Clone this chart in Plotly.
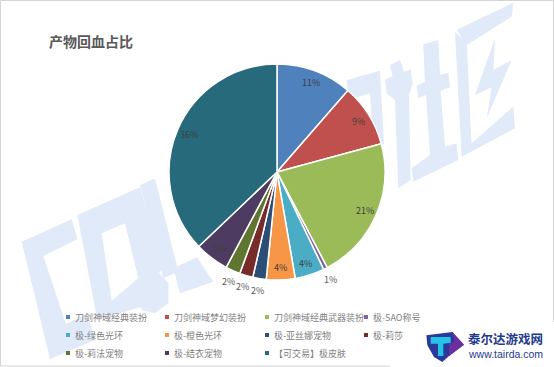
import math
import plotly.graph_objects as go

categories = ["刀剑神域经典装扮", "刀剑神域梦幻装扮", "刀剑神域经典武器装扮", "极-SAO称号",
              "极-绿色光环", "极-橙色光环", "极-亚丝娜宠物", "极-莉莎",
              "极-莉法宠物", "极-结衣宠物", "【可交易】极皮肤"]
values = [11.4, 9.4, 21.5, 0.6, 4.4, 4.3, 2.0, 2.0, 2.2, 5.1, 37.1]
shown_labels = ["11%", "9%", "21%", "1%", "4%", "4%", "2%", "2%", "2%", "5%", "36%"]
label_outside = [False, False, False, True, False, False, True, True, True, False, False]
colors = ["#4f81bd", "#c0504d", "#9bbb59", "#8064a2", "#4bacc6", "#f79646",
          "#2c4d75", "#772c2a", "#5f7530", "#4d3b62", "#276a7c"]

W, H = 554, 367
CX, CY, R = 277, 172, 108
PALE = "#e1eaf8"
SANS = "Noto Sans CJK SC"


def path(points):
    return "M" + "L".join(f"{x / W:.4f},{1 - y / H:.4f}" for x, y in points) + "Z"


def z4(points):
    return [(x / 3, 170 + y / 3) for x, y in points]


def z5(points):
    return [(280 + x / 3, y / 3) for x, y in points]


def z6(points):
    return [(414 + x / 3, 322 + y / 3) for x, y in points]


def poly(points, fill, layer="below"):
    return dict(type="path", xref="paper", yref="paper", path=path(points), fillcolor=fill,
                line=dict(width=0), layer=layer)


def frame(x0, y0, x1, y1):
    return dict(type="line", xref="paper", yref="paper", x0=x0 / W, x1=x1 / W,
                y0=1 - y0 / H, y1=1 - y1 / H, line=dict(color="#d4d4d4", width=1), layer="below")


def note(text, x, y, size, color, family=SANS, anchor="left"):
    return dict(text=text, xref="paper", yref="paper", x=x / W, y=1 - y / H, xanchor=anchor,
                yanchor="middle", showarrow=False, font=dict(family=family, size=size, color=color))


watermark = [
    z4([(65, 215), (215, 148), (232, 208), (130, 258), (198, 462), (262, 432), (285, 510), (150, 567)]),
    z4([(232, 135), (420, 52), (490, 300), (425, 330), (425, 410), (310, 445), (290, 440)]),
    z4([(420, 45), (465, 25), (535, 305), (490, 325)]),
    z4([(520, 295), (590, 262), (640, 335), (540, 370)]),
    z4([(430, 320), (475, 305), (505, 340), (505, 400), (465, 430), (425, 420), (412, 365)]),
    z5([(200, 240), (300, 212), (312, 432), (280, 445), (270, 280), (205, 300)]),
    z5([(330, 195), (360, 180), (372, 215), (392, 208), (398, 250), (387, 285), (392, 540), (355, 565), (345, 300), (320, 280), (315, 240), (338, 228)]),
    z5([(430, 133), (475, 120), (480, 225), (505, 218), (510, 262), (482, 272), (495, 440), (530, 430), (535, 480), (400, 545), (395, 505), (450, 465), (438, 285), (415, 295), (410, 258), (435, 245)]),
    z5([(530, 90), (700, 8), (695, 50), (560, 135)]),
    z5([(525, 95), (560, 130), (575, 440), (545, 470)]),
    z5([(575, 430), (700, 320), (705, 385), (545, 470)]),
    z5([(645, 115), (585, 285), (635, 262), (620, 355), (695, 180), (640, 210)]),
]
hole = z4([(305, 190), (375, 160), (415, 325), (335, 392)])

shapes = [frame(0.5, 0.5, 553.5, 0.5), frame(0.5, 0.5, 0.5, 366), frame(553.5, 0.5, 553.5, 322),
          frame(0.5, 366, 390, 366)]
shapes += [poly(p, PALE) for p in watermark]
shapes.append(poly(hole, "#ffffff"))
shapes += [
    poly(z6([(37, 40), (115, 30), (150, 68), (105, 102), (85, 120), (60, 105), (40, 70)]), "#2b3a9a", "above"),
    poly(z6([(115, 30), (150, 68), (105, 102), (106, 62), (122, 60)]), "#6b2fa0", "above"),
    poly(z6([(50, 45), (110, 45), (110, 62), (88, 65), (88, 102), (72, 102), (72, 65), (50, 65)]), "#25c4e6", "above"),
]

annotations = [
    note("<b>产物回血占比</b>", 47, 41, 14, "#595959"),
    note("<b>泰尔达游戏网</b>", 466, 338, 12.5, "#1f3a8f"),
    note("www.tairda.com", 466, 354, 10.5, "#1f3a8f", "Liberation Sans"),
]

# percent labels sit on each slice's mid-angle, as the reference's do
total = sum(values)
running = 0.0
for value, label, outside in zip(values, shown_labels, label_outside):
    mid = (running + value / 2) / total * 2 * math.pi
    running += value
    rr = R * (1.11 if outside else 0.885)
    annotations.append(note(label, CX + rr * math.sin(mid), CY - rr * math.cos(mid), 9,
                            "#595959" if outside else "#404040", anchor="center"))

# legend grid: three rows of four columns, filled row by row
column_x = [68, 167, 267, 366]
row_y = [317, 335, 353]
for i, (name, color) in enumerate(zip(categories, colors)):
    x, y = column_x[i % 4], row_y[i // 4]
    shapes.append(dict(type="rect", xref="paper", yref="paper", x0=(x - 2) / W, x1=(x + 2) / W,
                       y0=1 - (y + 2) / H, y1=1 - (y - 2) / H, fillcolor=color,
                       line=dict(width=0), layer="above"))
    annotations.append(note(name, x + 5, y, 9, "#7f7f7f"))

fig = go.Figure(go.Pie(
    labels=categories,
    values=values,
    textinfo="none",
    marker=dict(colors=colors, line=dict(color="#ffffff", width=1.5)),
    sort=False,
    direction="clockwise",
    rotation=0,
    domain=dict(x=[(CX - R) / W, (CX + R) / W], y=[1 - (CY + R) / H, 1 - (CY - R) / H]),
))

fig.update_layout(
    width=W, height=H,
    margin=dict(l=0, r=0, t=0, b=0, autoexpand=False),
    paper_bgcolor="#ffffff", plot_bgcolor="#ffffff",
    shapes=shapes,
    showlegend=False,
    annotations=annotations,
)

fig.write_html("out.html", config={"displayModeBar": False},
               post_script="document.body.style.margin='0';document.documentElement.style.overflow='hidden';")
